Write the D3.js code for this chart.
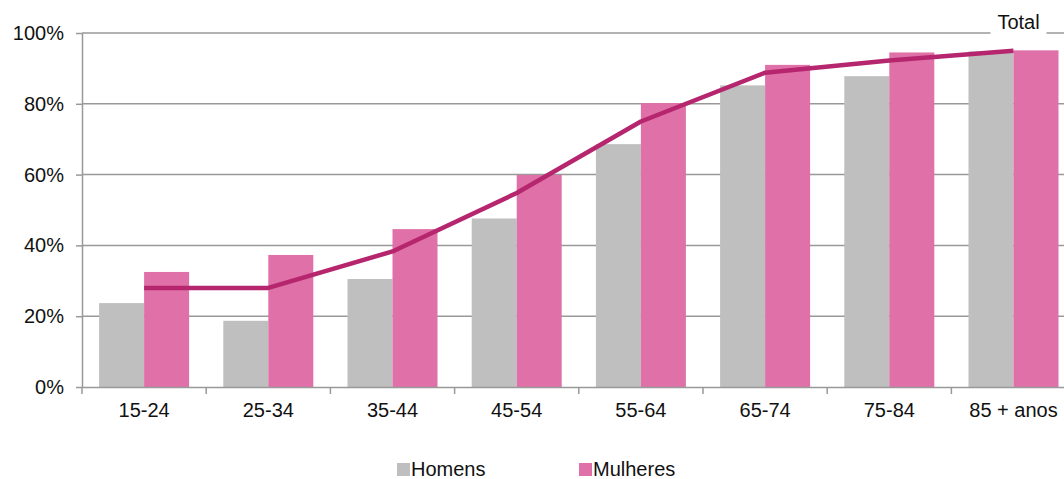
<!DOCTYPE html>
<html>
<head>
<meta charset="utf-8">
<script src="https://cdn.jsdelivr.net/npm/d3@7"></script>
<style>
  body { margin: 0; background: #fff; }
  svg { font-family: "Liberation Sans", Arial, sans-serif; }
</style>
</head>
<body>
<div id="chart"></div>
<script>
// data (%)
const ages = ['15-24', '25-34', '35-44', '45-54', '55-64', '65-74', '75-84', '85 + anos'];
const homens = [23.7, 18.7, 30.5, 47.6, 68.6, 85.2, 87.8, 94.8];
const mulheres = [32.5, 37.3, 44.6, 59.9, 80.2, 91.0, 94.5, 95.1];
const total = [28.0, 28.0, 38.3, 54.8, 75.0, 88.8, 92.2, 95.0];
const yTicks = [0, 20, 40, 60, 80, 100];

const width = 1064;
const height = 479;
const margin = {top: 33, left: 82, bottom: 92};
const band = 124.2;

const grey = '#bfbfbf';
const pink = '#e070a8';
const lineColour = '#b5266e';
const axisColour = '#999999';
const fontSize = '20px';

const svg = d3.select('#chart')
    .append('svg')
        .attr('width', width)
        .attr('height', height);

// SCALES
const x = d3.scaleBand()
    .domain(ages)
    .range([margin.left, margin.left + band * ages.length]);
const xSub = d3.scaleBand()
    .domain(['h', 'm'])
    .range([0, x.bandwidth()])
    .paddingOuter(0.38);
const y = d3.scaleLinear()
    .domain([0, 100])
    .range([height - margin.bottom, margin.top]);

// gridlines
svg.append('g')
    .selectAll('line')
    .data(yTicks.slice(1))
    .join('line')
        .attr('x1', margin.left)
        .attr('x2', width)
        .attr('y1', d => y(d))
        .attr('y2', d => y(d))
        .attr('stroke', axisColour)
        .attr('stroke-width', 1.5);

// bars
const groups = svg.append('g')
    .selectAll('g')
    .data(ages)
    .join('g')
        .attr('transform', d => `translate(${x(d)},0)`);
groups.append('rect')
    .attr('x', xSub('h'))
    .attr('width', xSub.bandwidth())
    .attr('y', (d, i) => y(homens[i]))
    .attr('height', (d, i) => y(0) - y(homens[i]))
    .attr('fill', grey);
groups.append('rect')
    .attr('x', xSub('m'))
    .attr('width', xSub.bandwidth())
    .attr('y', (d, i) => y(mulheres[i]))
    .attr('height', (d, i) => y(0) - y(mulheres[i]))
    .attr('fill', pink);

// total line
const line = d3.line()
    .x((d, i) => x(ages[i]) + xSub('m'))
    .y(d => y(d));
svg.append('path')
    .datum(total)
        .attr('fill', 'none')
        .attr('stroke', lineColour)
        .attr('stroke-width', 4.5)
        .attr('stroke-linejoin', 'round')
        .attr('d', line);

// AXES
const yAxis = svg.append('g')
    .attr('transform', `translate(${margin.left},0)`)
    .call(d3.axisLeft(y)
        .tickValues(yTicks)
        .tickFormat(d => d + '%')
        .tickSize(6)
        .tickSizeOuter(0)
        .tickPadding(12));
const xAxis = svg.append('g')
    .attr('transform', `translate(0,${y(0)})`)
    .call(d3.axisBottom(x)
        .tickSize(0)
        .tickSizeOuter(0)
        .tickPadding(16));

[yAxis, xAxis].forEach(g => {
    g.select('.domain').attr('stroke', axisColour).attr('stroke-width', 1.5);
    g.selectAll('.tick line').attr('stroke', axisColour).attr('stroke-width', 1.5);
    g.selectAll('.tick text')
        .attr('fill', '#111')
        .style('font-size', fontSize)
        .style('font-family', '"Liberation Sans", Arial, sans-serif');
});

// ticks between categories on the x axis
xAxis.append('g')
    .selectAll('line')
    .data(d3.range(ages.length + 1))
    .join('line')
        .attr('x1', i => margin.left + i * x.step())
        .attr('x2', i => margin.left + i * x.step())
        .attr('y1', 0)
        .attr('y2', 7)
        .attr('stroke', axisColour)
        .attr('stroke-width', 1.5);

// "Total" label breaking the 100% gridline
const lbl = svg.append('g')
    .attr('transform', `translate(${x(ages[ages.length - 1]) + xSub('m') + 5}, ${y(100)})`);
lbl.append('rect')
    .attr('x', -28)
    .attr('y', -20)
    .attr('width', 56)
    .attr('height', 24)
    .attr('fill', '#fff');
lbl.append('text')
    .attr('text-anchor', 'middle')
    .attr('y', -4)
    .style('font-size', fontSize)
    .attr('fill', '#111')
    .text('Total');

// legend
const legend = svg.append('g')
    .attr('transform', `translate(397, ${height - 3})`);
const items = [{label: 'Homens', colour: grey, dx: 0}, {label: 'Mulheres', colour: pink, dx: 182}];
items.forEach(it => {
    legend.append('rect')
        .attr('x', it.dx)
        .attr('y', -13)
        .attr('width', 13)
        .attr('height', 13)
        .attr('fill', it.colour);
    legend.append('text')
        .attr('x', it.dx + 14)
        .attr('y', 0)
        .style('font-size', fontSize)
        .attr('fill', '#111')
        .text(it.label);
});
</script>
</body>
</html>
